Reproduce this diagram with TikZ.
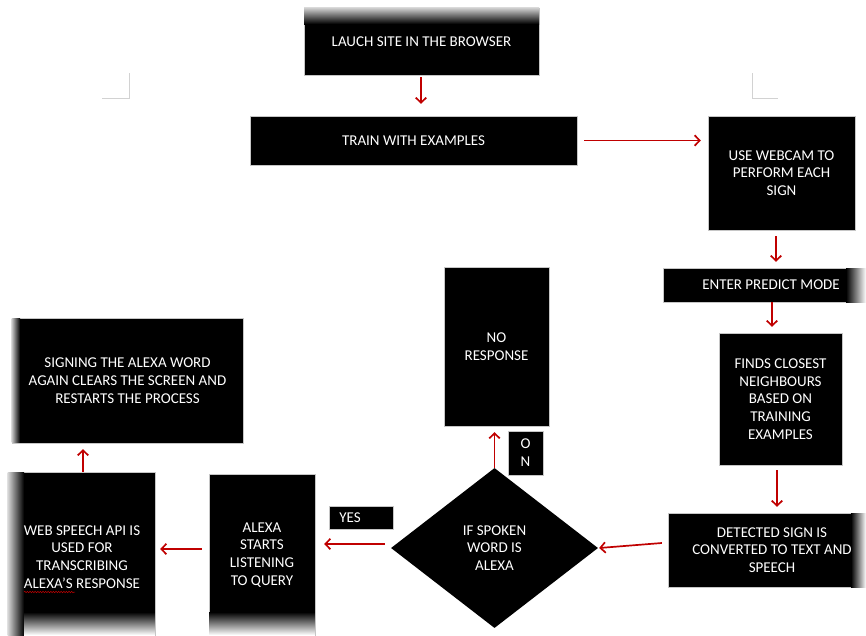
\documentclass[tikz,border=0pt]{standalone}
\usepackage{fontspec}
\setmainfont{Carlito}
\usetikzlibrary{arrows.meta,shapes.geometric,calc,decorations.pathmorphing}
\definecolor{arrred}{RGB}{192,0,0}
\begin{document}
\begin{tikzpicture}[x=1pt,y=-1pt,
  box/.style={draw=gray!45,line width=0.4pt,fill=black,text=white,align=center,inner sep=0pt,
    font=\fontsize{15}{17.7}\selectfont},
  txt/.style={text=white,align=center,inner sep=0pt,font=\fontsize{15}{17.7}\selectfont},
  arr/.style={draw=arrred,line width=1.7pt,-{Straight Barb[length=5pt,width=10.5pt]}},
  corner/.style={draw=gray!35,line width=0.8pt}]
\useasboundingbox (0,0) rectangle (866,635);

% corner marks
\draw[corner] (129,73) -- (129,98) -- (102,98);
\draw[corner] (752,73) -- (752,98) -- (778,98);

% boxes
\node[box,minimum width=235pt,minimum height=67pt] (launch) at (421.5,41.5) {LAUCH SITE IN THE BROWSER};
\node[box,minimum width=327pt,minimum height=49pt] (train) at (413.5,140.5) {TRAIN WITH EXAMPLES};
\node[box,minimum width=147pt,minimum height=114pt] (webcam) at (781.5,173) {USE WEBCAM TO\\PERFORM EACH\\SIGN};
\node[box,minimum width=203pt,minimum height=34pt] (predict) at (764.5,285) {};
\node[box,minimum width=123pt,minimum height=132pt] (finds) at (780.5,399) {FINDS CLOSEST\\NEIGHBOURS\\BASED ON\\TRAINING\\EXAMPLES};
\node[box,minimum width=198pt,minimum height=74pt] (detected) at (767,550) {};
\node[box,shape=diamond,draw=none,minimum width=207pt,minimum height=160pt] (diamond) at (494.5,548) {IF SPOKEN\\WORD IS\\ALEXA};
\node[box,minimum width=105pt,minimum height=159pt] (noresp) at (496.5,346.5) {NO\\RESPONSE};
\node[box,minimum width=35pt,minimum height=44pt,font=\fontsize{15}{18}\selectfont] (on) at (525.5,453) {O\\N};
\node[box,minimum width=64pt,minimum height=23pt] (yes) at (361,517.5) {YES\hspace*{22pt}};
\node[box,minimum width=106pt,minimum height=161pt] (alexa) at (262,554.5) {};
\node[box,minimum width=147pt,minimum height=163pt] (web) at (81.5,553.5) {};
\node[box,minimum width=231pt,minimum height=125pt] (signing) at (127.5,380.5) {SIGNING THE ALEXA WORD\\AGAIN CLEARS THE SCREEN AND\\RESTARTS THE PROCESS};

% soft fades at box edges
\shade[top color=gray!35,bottom color=black] (304,7.6) rectangle (539,24);
\shade[left color=black,right color=white] (846,268) rectangle (866,302);
\shade[left color=black,right color=white] (851,513) rectangle (866,587);
\shade[top color=black,bottom color=white] (209.2,612) rectangle (314.8,635);
\shade[left color=gray!30,right color=black] (7.6,472.4) rectangle (24,635);
\shade[top color=black,bottom color=white] (24,612) rectangle (154.8,635);
\shade[left color=gray!40,right color=black] (11.6,318.4) rectangle (20,442.6);

% texts of boxes with off-centre labels
\node[txt] (predictT) at ($(predict.center)+(6.5,0)$) {ENTER PREDICT MODE};
\node[txt] (detectedT) at ($(detected.center)+(5,0)$) {DETECTED SIGN IS\\CONVERTED TO TEXT AND\\SPEECH};
\node[txt] (alexaT) at (262,555) {ALEXA\\STARTS\\LISTENING\\TO QUERY};
\node[txt] (webT) at (82,557) {WEB SPEECH API IS\\USED FOR\\TRANSCRIBING\\ALEXA’S RESPONSE};
\draw[arrred,line width=0.5pt,decorate,decoration={snake,amplitude=0.7pt,segment length=2.6pt}] (24,592) -- (75,592);

% connectors
\draw[arr] ($(launch.south)+(-0.5,2)$) -- ($(launch.south |- train.north)+(-0.5,-12)$);
\draw[arr] ($(train.east)+(7,0)$) -- ($(train.east -| webcam.west)+(-7,0)$);
\draw[arr] ($(webcam.south)+(-5.5,6)$) -- ($(webcam.south |- predict.north)+(-5.5,-6)$);
\draw[arr] ($(predict.south)+(7.5,0)$) -- ($(predict.south |- finds.north)+(7.5,-6)$);
\draw[arr] ($(finds.south)+(-3.5,5)$) -- ($(finds.south |- detected.north)+(-3.5,-6)$);
\draw[arr] ($(detected.west)+(-6,-7)$) -- ($(diamond.east)+(1,0)$);
\draw[arr] (diamond.north) -- ($(diamond.north |- noresp.south)+(0,6)$);
\draw[arr] ($(diamond.west)+(-6,-4)$) -- ($(diamond.west -| alexa.east)+(9,-4)$);
\draw[arr] ($(alexa.west)+(-7,-5.5)$) -- ($(alexa.west -| web.east)+(5,-5.5)$);
\draw[arr] ($(web.north)+(1.5,0)$) -- ($(web.north |- signing.south)+(1.5,6)$);
\end{tikzpicture}
\end{document}
